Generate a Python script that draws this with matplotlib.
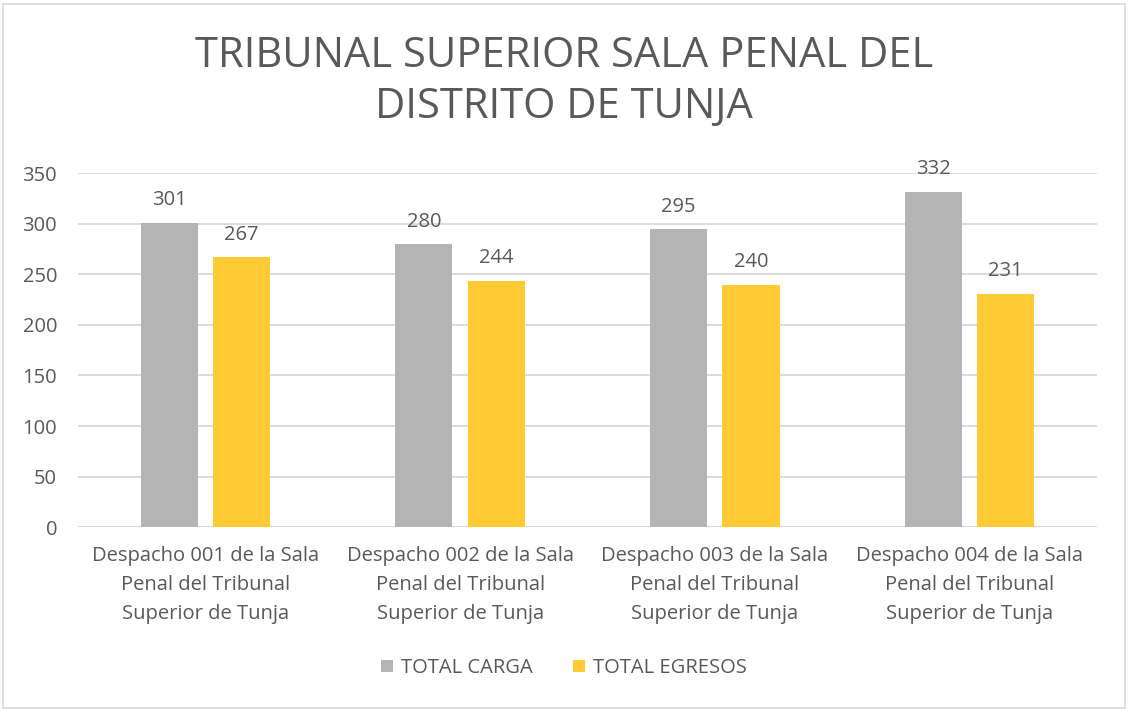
import numpy as np
import matplotlib
matplotlib.use('Agg')
import matplotlib.pyplot as plt
from matplotlib.patches import Rectangle

# data
categories = [
    'Despacho 001 de la Sala\nPenal del Tribunal\nSuperior de Tunja',
    'Despacho 002 de la Sala\nPenal del Tribunal\nSuperior de Tunja',
    'Despacho 003 de la Sala\nPenal del Tribunal\nSuperior de Tunja',
    'Despacho 004 de la Sala\nPenal del Tribunal\nSuperior de Tunja',
]
total_carga = [301, 280, 295, 332]
total_egresos = [267, 244, 240, 231]
series_names = ['TOTAL CARGA', 'TOTAL EGRESOS']
y_ticks = [0, 50, 100, 150, 200, 250, 300, 350]
title = 'TRIBUNAL SUPERIOR SALA PENAL DEL\nDISTRITO DE TUNJA'

text_color = '#595959'
grid_color = '#D9D9D9'
gray = '#B4B4B4'
yellow = '#FFCA33'
fs = 14.5

plt.rcParams['font.family'] = ['Open Sans', 'DejaVu Sans']

fig = plt.figure(figsize=(11.28, 7.10), dpi=100)
fig.patches.append(Rectangle((0.003, 0.003), 0.994, 0.992, transform=fig.transFigure,
                             fill=False, edgecolor=grid_color, linewidth=1.2))

ax = fig.add_axes([0.0691, 0.2577, 0.9034, 0.498])

x = np.arange(len(categories))
w = 0.224
off = 0.142
b1 = ax.bar(x - off, total_carga, w, color=gray, label=series_names[0], zorder=2)
b2 = ax.bar(x + off, total_egresos, w, color=yellow, label=series_names[1], zorder=2)

for bars in (b1, b2):
    for rect in bars:
        h = rect.get_height()
        ax.annotate(f'{h:d}', (rect.get_x() + rect.get_width() / 2, h),
                    xytext=(0, 9), textcoords='offset points',
                    ha='center', va='bottom', fontsize=fs, color=text_color)

ax.set_xlim(-0.5, len(categories) - 0.5)
ax.set_ylim(0, 350)
ax.set_yticks(y_ticks)
ax.set_xticks(x)
ax.set_xticklabels(categories, fontsize=fs, color=text_color, linespacing=1.6)
ax.tick_params(axis='y', labelsize=fs, labelcolor=text_color, length=0, pad=15)
ax.tick_params(axis='x', length=0, pad=14)
ax.yaxis.grid(True, color=grid_color, linewidth=1.3, zorder=0)
ax.set_axisbelow(True)
for s in ax.spines.values():
    s.set_visible(False)
ax.axhline(0, color=grid_color, linewidth=1.3, zorder=1)

fig.text(0.5, 0.885, title, ha='center', va='center', fontsize=30,
         color=text_color, linespacing=1.3)

fig.legend(handles=[b1, b2], labels=series_names, loc='center',
           bbox_to_anchor=(0.5, 0.059), ncol=2, frameon=False,
           fontsize=fs, labelcolor=text_color, handlelength=0.6,
           handleheight=0.6, handletextpad=0.4, columnspacing=2.0)

fig.savefig('out.png', dpi=100)
